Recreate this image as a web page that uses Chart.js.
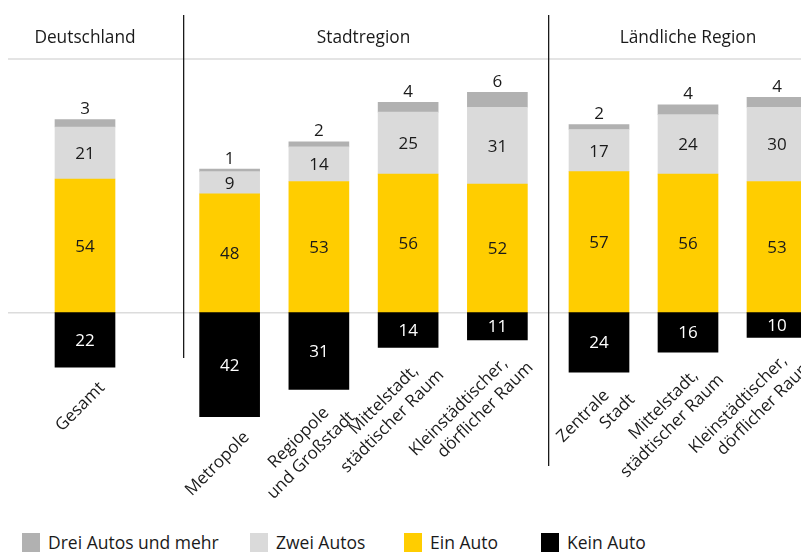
<!DOCTYPE html>
<html>
<head>
<meta charset="utf-8">
<title>Pkw-Besitz nach Raumtyp</title>
<script src="https://cdn.jsdelivr.net/npm/chart.js@4.4.1/dist/chart.umd.min.js"></script>
<style>
  html, body { margin: 0; padding: 0; background: #fff; }
  #wrap { position: relative; width: 801px; height: 552px; overflow: hidden; font-family: "Open Sans", sans-serif; color: #1a1a1a; }
  .panel { position: absolute; top: 0; height: 500px; }
  #legend { position: absolute; left: 22px; top: 533px; display: flex; font-size: 17.5px; line-height: 18px; }
  .item { display: flex; align-items: flex-start; white-space: nowrap; }
  .swatch { width: 18px; height: 19px; margin-right: 8px; flex: none; }
</style>
</head>
<body>
<div id="wrap">
  <div class="panel" id="p0"><canvas id="c0"></canvas></div>
  <div class="panel" id="p1"><canvas id="c1"></canvas></div>
  <div class="panel" id="p2"><canvas id="c2"></canvas></div>
  <div id="legend"></div>
</div>
<script>
  const groupTitles = ["Deutschland", "Stadtregion", "Ländliche Region"];
  const categories = [
    ["Gesamt"],
    ["Metropole"],
    ["Regiopole", "und Großstadt"],
    ["Mittelstadt,", "städtischer Raum"],
    ["Kleinstädtischer,", "dörflicher Raum"],
    ["Zentrale", "Stadt"],
    ["Mittelstadt,", "städtischer Raum"],
    ["Kleinstädtischer,", "dörflicher Raum"]
  ];
  const groupOf = [0, 1, 1, 1, 1, 2, 2, 2];

  const dreiAutos = [3, 1, 2, 4, 6, 2, 4, 4];
  const zweiAutos = [21, 9, 14, 25, 31, 17, 24, 30];
  const einAuto = [54, 48, 53, 56, 52, 57, 56, 53];
  const keinAuto = [22, 42, 31, 14, 11, 24, 16, 10];

  const seriesNames = ["Drei Autos und mehr", "Zwei Autos", "Ein Auto", "Kein Auto"];
  const seriesColors = ["#b1b1b1", "#dadada", "#ffcd00", "#000000"];

  const TEXT = "#1a1a1a";
  const FONT = "'Open Sans', sans-serif";

  // panel layout (pixels)
  const panels = [
    { left: 0, width: 183, padLeft: 8, padRight: 21, sepBottom: null },
    { left: 183, width: 365, padLeft: 2, padRight: 6, sepBottom: 358 },
    { left: 548, width: 280, padLeft: 6.5, padRight: 6.5, sepBottom: 466 }
  ];
  const legendItemWidths = [228, 154, 137, 130];

  const guidesPlugin = {
    id: "guides",
    beforeDatasetsDraw(chart, args, opts) {
      const { ctx, chartArea, scales } = chart;
      const x0 = opts.first ? chartArea.left : 0;
      const x1 = chart.width;
      const y0 = scales.y.getPixelForValue(0);
      ctx.save();
      ctx.strokeStyle = "#dcdcdc";
      ctx.lineWidth = 1.5;
      ctx.beginPath();
      ctx.moveTo(x0, chartArea.top);
      ctx.lineTo(x1, chartArea.top);
      ctx.moveTo(x0, y0);
      ctx.lineTo(x1, y0);
      ctx.stroke();
      if (opts.sepBottom) {
        ctx.strokeStyle = TEXT;
        ctx.lineWidth = 1.3;
        ctx.beginPath();
        ctx.moveTo(0.65, 15);
        ctx.lineTo(0.65, opts.sepBottom);
        ctx.stroke();
      }
      ctx.restore();
    }
  };

  const labelsPlugin = {
    id: "barLabels",
    afterDatasetsDraw(chart) {
      const { ctx } = chart;
      const n = chart.data.datasets.length;
      ctx.save();
      ctx.font = "17px " + FONT;
      ctx.textAlign = "center";
      ctx.textBaseline = "alphabetic";

      chart.data.datasets.forEach((ds, di) => {
        const meta = chart.getDatasetMeta(di);
        meta.data.forEach((bar, i) => {
          const v = Math.abs(ds.data[i]);
          const top = Math.min(bar.y, bar.base);
          const bottom = Math.max(bar.y, bar.base);
          ctx.fillStyle = ds.labelColor;
          if (di === n - 1) {
            ctx.fillText(String(v), bar.x, top - 5.5);
          } else {
            ctx.fillText(String(v), bar.x, (top + bottom) / 2 + 6);
          }
        });
      });

      // category labels below the "Kein Auto" bars, last line anchored at its right end
      const kein = chart.getDatasetMeta(0);
      ctx.fillStyle = TEXT;
      ctx.textAlign = "right";
      ctx.textBaseline = "top";
      kein.data.forEach((bar, i) => {
        const lines = chart.data.labels[i];
        const last = lines.length - 1;
        const bottom = Math.max(bar.y, bar.base);
        const dx = last === 0 ? 11 : 27;
        const dy = last === 0 ? 12 : 19;
        ctx.save();
        ctx.translate(bar.x + dx, bottom + dy);
        ctx.rotate(-Math.PI / 4);
        lines.forEach((line, k) => ctx.fillText(line, (k - last) * 15, (k - last) * 21));
        ctx.restore();
      });
      ctx.restore();
    }
  };

  panels.forEach((p, g) => {
    const box = document.getElementById("p" + g);
    box.style.left = p.left + "px";
    box.style.width = p.width + "px";

    const idx = categories.map((c, i) => i).filter(i => groupOf[i] === g);
    const pick = arr => idx.map(i => arr[i]);

    new Chart(document.getElementById("c" + g), {
      type: "bar",
      data: {
        labels: pick(categories),
        datasets: [
          { label: seriesNames[3], data: pick(keinAuto).map(v => -v), backgroundColor: seriesColors[3], labelColor: "#ffffff" },
          { label: seriesNames[2], data: pick(einAuto), backgroundColor: seriesColors[2], labelColor: TEXT },
          { label: seriesNames[1], data: pick(zweiAutos), backgroundColor: seriesColors[1], labelColor: TEXT },
          { label: seriesNames[0], data: pick(dreiAutos), backgroundColor: seriesColors[0], labelColor: TEXT }
        ]
      },
      options: {
        responsive: true,
        maintainAspectRatio: false,
        animation: false,
        events: [],
        layout: { padding: { left: p.padLeft, right: p.padRight, top: 0, bottom: 32.6 } },
        datasets: { bar: { barThickness: 60, borderWidth: 0 } },
        plugins: {
          legend: { display: false },
          tooltip: { enabled: false },
          title: {
            display: true,
            text: groupTitles[g],
            color: TEXT,
            font: { family: FONT, size: 17.3, weight: "normal", lineHeight: 1.2 },
            padding: { top: 28, bottom: 10.2 }
          },
          guides: { first: g === 0, sepBottom: p.sepBottom }
        },
        scales: {
          x: { stacked: true, display: false },
          y: { stacked: true, display: false, min: -62.5, max: 102.5 }
        }
      },
      plugins: [guidesPlugin, labelsPlugin]
    });
  });

  const legend = document.getElementById("legend");
  seriesNames.forEach((name, i) => {
    const item = document.createElement("div");
    item.className = "item";
    item.style.width = legendItemWidths[i] + "px";
    const sw = document.createElement("span");
    sw.className = "swatch";
    sw.style.background = seriesColors[i];
    const txt = document.createElement("span");
    txt.textContent = name;
    item.appendChild(sw);
    item.appendChild(txt);
    legend.appendChild(item);
  });
</script>
</body>
</html>
